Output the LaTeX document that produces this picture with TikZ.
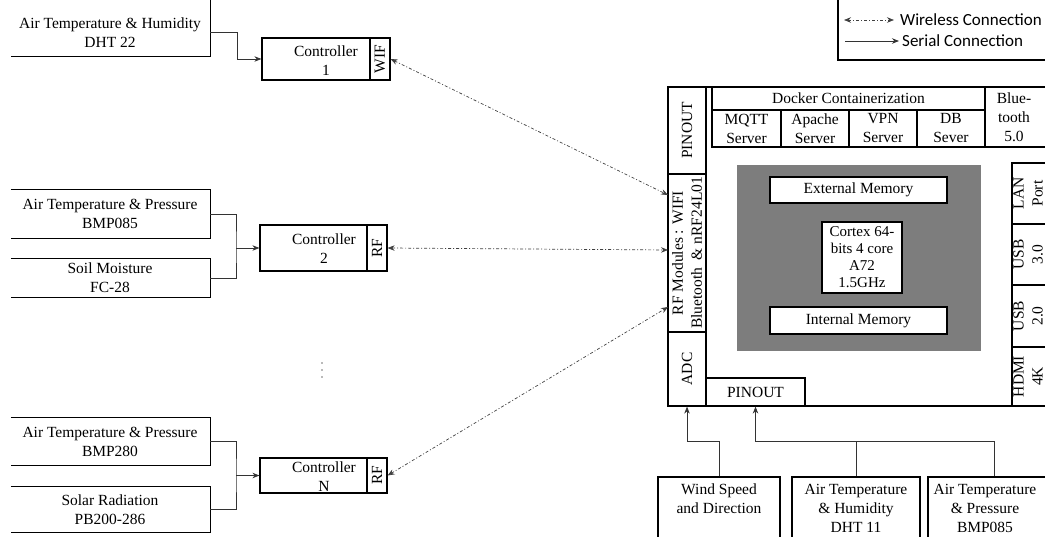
\documentclass[tikz,border=0pt]{standalone}
\usepackage{fontspec}
\setmainfont{Liberation Serif}
\newfontfamily\legendfont{Carlito}
\usetikzlibrary{arrows.meta,calc}
\definecolor{chipgray}{RGB}{125,125,125}
\begin{document}
\begin{tikzpicture}[x=1pt,y=-1pt]
\tikzset{
 bx/.style={draw, line width=1.2pt, inner sep=0pt, rectangle},
 nb/.style={draw=none, inner sep=0pt, rectangle},
 txt/.style={font=\fontsize{15.5}{19}\selectfont, align=center, inner sep=0pt},
 vtxt/.style={txt, rotate=90},
 ser/.style={line width=0.8pt, draw=black!80},
 serarr/.style={ser, -{Stealth[length=7pt,width=5.5pt]}},
 wire/.style={line width=0.7pt, draw=black!75, dash pattern=on 3pt off 2pt on 1pt off 2pt,
   {Stealth[length=7pt,width=5.5pt]}-{Stealth[length=7pt,width=5.5pt]}},
 dotmark/.style={circle, fill=black!55, inner sep=0pt, minimum size=1.8pt},
}
\useasboundingbox (0,0) rectangle (1045,537);

% ---------- left sensor boxes (open to the left) ----------
\node[nb, minimum width=199pt, minimum height=66pt] (s1) at (110.5,23) {};
\draw[line width=1.2pt] (s1.north east) -- (s1.south east) -- (s1.south west);
\node[txt] (t1) at (110,33) {Air Temperature \& Humidity\\DHT 22};

\node[nb, minimum width=199pt, minimum height=48pt] (s2) at (110.5,214) {};
\draw[line width=1.2pt] (s2.north west) -- (s2.north east) -- (s2.south east) -- (s2.south west);
\node[txt] (t2) at (110,214) {Air Temperature \& Pressure\\BMP085};

\node[nb, minimum width=199pt, minimum height=38pt] (s3) at (110.5,278) {};
\draw[line width=1.2pt] (s3.north west) -- (s3.north east) -- (s3.south east) -- (s3.south west);
\node[txt] (t3) at (110,278) {Soil Moisture\\FC-28};

\node[nb, minimum width=199pt, minimum height=47pt] (s4) at (110.5,441.5) {};
\draw[line width=1.2pt] (s4.north west) -- (s4.north east) -- (s4.south east) -- (s4.south west);
\node[txt] (t4) at (110,441.5) {Air Temperature \& Pressure\\BMP280};

\node[nb, minimum width=199pt, minimum height=45pt] (s5) at (110.5,509.5) {};
\draw[line width=1.2pt] (s5.north west) -- (s5.north east) -- (s5.south east) -- (s5.south west);
\node[txt] (t5) at (110,510) {Solar Radiation\\PB200-286};

% ---------- controllers ----------
\node[bx, minimum width=108pt, minimum height=42pt] (c1) at (316,59) {};
\node[bx, minimum width=20pt, minimum height=42pt] (c1w) at (380,59) {};
\node[txt] (c1t) at (326,61) {Controller\\1};
\node[vtxt] at (c1w) {WIF};

\node[bx, minimum width=107pt, minimum height=46pt] (c2) at (313.5,248) {};
\node[bx, minimum width=20pt, minimum height=46pt] (c2w) at (377,248) {};
\node[txt] (c2t) at (324,249) {Controller\\2};
\node[vtxt] at (c2w) {RF};

\node[bx, minimum width=107pt, minimum height=35pt] (cN) at (313.5,475.5) {};
\node[bx, minimum width=20pt, minimum height=35pt] (cNw) at (377,475.5) {};
\node[txt] (cNt) at (324,477) {Controller\\N};
\node[vtxt] at (cNw) {RF};

\node[dotmark] (d1) at (322,363) {};
\node[dotmark] (d2) at (322,370) {};
\node[dotmark] (d3) at (322,377) {};

% serial connectors to controllers
\draw[serarr] ([yshift=24pt]s1.south east) -- ++(27,0) |- (c1.west);
\coordinate (j2) at (236,248);
\draw[ser] (s2.east) -| (j2) |- (s3.east);
\draw[serarr] (j2) -- (c2.west);
\coordinate (jN) at (236,475.5);
\draw[ser] (s4.east) -| (jN) |- (s5.east);
\draw[serarr] (jN) -- (cN.west);

% ---------- main board ----------
\node[bx, minimum width=392pt, minimum height=319pt] (board) at (864,246.5) {};
\node[bx, minimum width=38pt, minimum height=87pt] (pinL) at (687,130.5) {};
\node[vtxt] at (pinL) {PINOUT};
\node[bx, minimum width=38pt, minimum height=158pt] (rfm) at (687,253) {};
\node[vtxt] at (rfm) {RF Modules : WIFI\\Bluetooth \ \& nRF24L01};
\node[bx, minimum width=38pt, minimum height=74pt] (adc) at (687,369) {};
\node[vtxt] at (adc) {ADC};

\node[bx, minimum width=273pt, minimum height=23pt] (docker) at (848.5,98.5) {};
\node[txt] at (docker) {Docker Containerization};
\node[bx, minimum width=69pt, minimum height=37pt] (mqtt) at (746.5,128.5) {};
\node[txt] at (mqtt) {MQTT\\Server};
\node[bx, minimum width=68pt, minimum height=37pt] (apache) at (815,128.5) {};
\node[txt] at (apache) {Apache\\Server};
\node[bx, minimum width=68pt, minimum height=37pt] (vpn) at (883,128.5) {};
\node[txt] at (vpn) {VPN\\Server};
\node[bx, minimum width=68pt, minimum height=37pt] (db) at (951,128.5) {};
\node[txt] at (db) {DB\\Sever};
\node[bx, minimum width=75pt, minimum height=60pt] (bt) at (1022.5,117) {};
\node[txt] at (1014,117) {Blue-\\tooth\\5.0};

\node[draw=none, fill=chipgray, inner sep=0pt, minimum width=244pt, minimum height=186pt] (chip) at (859,258) {};
\node[bx, fill=white, minimum width=177pt, minimum height=26pt] (ext) at (858.5,190) {};
\node[txt] at (ext) {External Memory};
\node[bx, fill=white, minimum width=80pt, minimum height=71pt] (cortex) at (862,257.5) {};
\node[txt, font=\fontsize{15}{17}\selectfont] at (cortex) {Cortex 64-\\bits 4 core\\A72\\1.5GHz};
\node[bx, fill=white, minimum width=177pt, minimum height=27pt] (int) at (858.5,320.5) {};
\node[txt] at (int) {Internal Memory};

\node[bx, minimum width=48pt, minimum height=61pt] (lan) at (1036,193.5) {};
\node[vtxt] at (1028,193.5) {LAN\\Port};
\node[bx, minimum width=48pt, minimum height=61pt] (usb3) at (1036,254.5) {};
\node[vtxt] at (1028,254.5) {USB\\3.0};
\node[bx, minimum width=48pt, minimum height=62pt] (usb2) at (1036,316) {};
\node[vtxt] at (1028,316) {USB\\2.0};
\node[bx, minimum width=48pt, minimum height=59pt] (hdmi) at (1036,376.5) {};
\node[vtxt] at (1028,376.5) {HDMI\\4K};

\node[bx, minimum width=99pt, minimum height=28pt] (pinB) at (755.5,392) {};
\node[txt] at (pinB) {PINOUT};

% wireless links
\coordinate (rf1) at (668,195);
\coordinate (rf2) at (668,250);
\coordinate (rf3) at (668,307);
\draw[wire] (c1w.east) -- (rf1);
\draw[wire] (c2w.east) -- (rf2);
\draw[wire] (cNw.east) -- (rf3);

% ---------- bottom sensors ----------
\node[bx, minimum width=122pt, minimum height=73pt] (wind) at (719,513.5) {};
\node[txt, anchor=north] at (719,484) {Wind Speed\\and Direction};
\node[bx, minimum width=128pt, minimum height=73pt] (dht) at (856,513.5) {};
\node[txt, anchor=north] at (856,484) {Air Temperature\\\& Humidity\\DHT 11};
\node[bx, minimum width=132pt, minimum height=73pt] (bmpb) at (994,513.5) {};
\node[txt, anchor=north] at (985,484) {Air Temperature\\\& Pressure\\BMP085};

\draw[serarr] (wind.north) -- ++(0,-35) -| (adc.south);
\draw[ser] (dht.north) -- ++(0,-35);
\draw[serarr] (bmpb.north) -- ++(0,-35) -| (pinB.south);

% ---------- legend ----------
\node[nb, minimum width=222pt, minimum height=70pt] (legend) at (949,25) {};
\draw[line width=1.4pt] (legend.north west) -- (legend.south west) -- (legend.south east);
\coordinate (lw1) at (844,20);
\coordinate (lw2) at (894,20);
\coordinate (ls1) at (845,41);
\coordinate (ls2) at (899,41);
\draw[wire] (lw1) -- (lw2);
\draw[serarr] (ls1) -- (ls2);
\node[anchor=west, inner sep=0pt, font=\legendfont\fontsize{17}{19}\selectfont] (lwt) at (900,20) {Wireless Connection};
\node[anchor=west, inner sep=0pt, font=\legendfont\fontsize{17}{19}\selectfont] (lst) at (902,41) {Serial Connection};
\end{tikzpicture}
\end{document}
